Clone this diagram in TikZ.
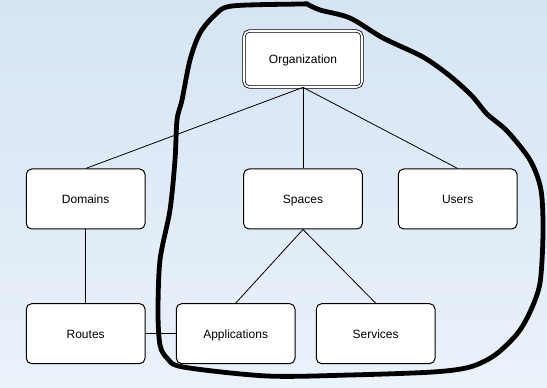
\documentclass[tikz,border=0pt]{standalone}
\usepackage{fontspec}
\setmainfont{Liberation Sans}

\definecolor{bgtop}{HTML}{D6E4F4}
\definecolor{bgbottom}{HTML}{EAF2FA}

\begin{document}
\begin{tikzpicture}[x=0.75pt,y=-0.75pt]
   \tikzstyle{entity}=[draw,fill=white,rounded corners=4pt,line width=0.75pt,
      minimum width=89pt,minimum height=45pt,text height=1.6ex,text depth=0.3ex,
      font=\fontsize{9}{11}\selectfont]
   \tikzstyle{root}=[entity,double=white,line width=0.6pt,double distance=1.2pt,
      minimum width=88.5pt,minimum height=42pt]
   \tikzstyle{link}=[draw,line width=0.6pt]
   % background
   \shade[top color=bgtop,bottom color=bgbottom] (0,0) rectangle (547,388);
   \useasboundingbox (0,0) rectangle (547,388);
   \node (org) [root] at (303,59) {Organization} ;
   \node (spaces) [entity,below of=org,node distance=105pt] {Spaces} ;
   \node (domains) [entity,left of=spaces,node distance=163pt] {Domains} ;
   \node (users) [entity,right of=spaces,node distance=116pt] {Users} ;
   \node (routes) [entity,below of=domains,node distance=101pt] {Routes} ;
   \node (apps) [entity,right of=routes,node distance=112.5pt] {Applications} ;
   \node (services) [entity,right of=apps,node distance=105pt] {Services} ;
   \path [link] (org.south) -- (domains.north) ;
   \path [link] (org.south) -- (spaces.north) ;
   \path [link] (org.south) -- (users.north) ;
   \path [link] (domains) -- (routes) ;
   \path [link] (routes) -- (apps) ;
   \path [link] (spaces.south) -- (apps.north) ;
   \path [link] (spaces.south) -- (services.north) ;
   % marker loop round the organization part
   \draw [line width=3.6pt,line cap=round,line join=round] plot [smooth,tension=0.5] coordinates {
      (307,4) (320,10) (350,18) (383,38) (423,57) (450,76) (472,96) (487,114)
      (507,131) (530,160) (541,190) (543,233) (540,283) (530,312) (517,334)
      (495,355) (470,367) (433,372) (350,375) (267,376) (183,367) (167,358)
      (160,345) (158,313) (160,260) (170,210) (175,160) (177,120) (182,100)
      (190,60) (200,33) (215,15) (232,6) (300,4) (307,4) };
\end{tikzpicture}
\end{document}
